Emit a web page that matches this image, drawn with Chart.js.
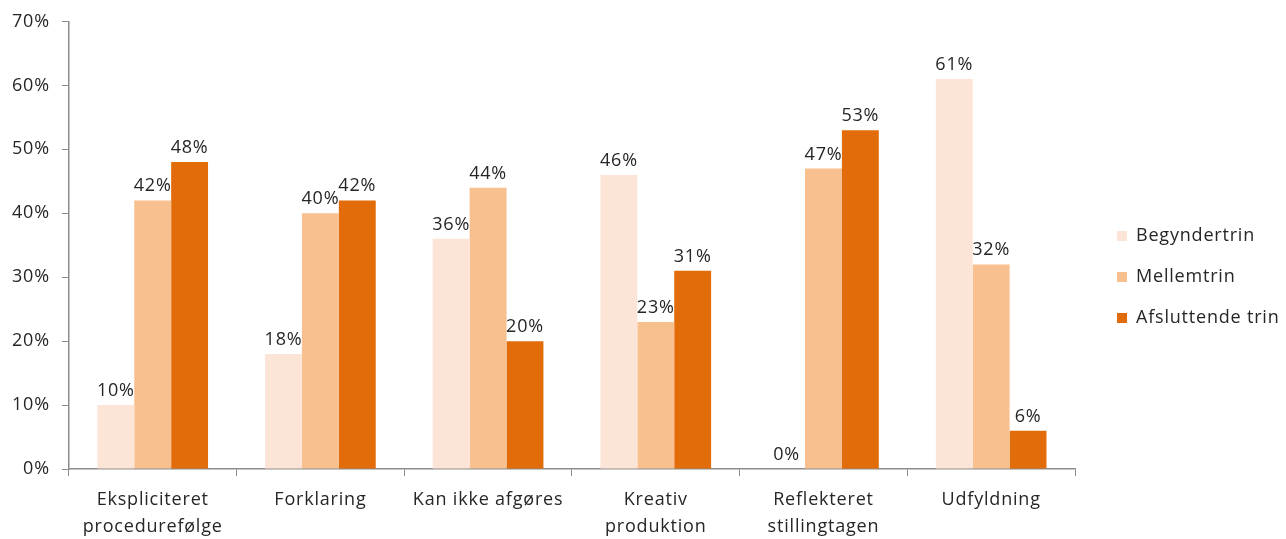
<!DOCTYPE html>
<html lang="da">
<head>
<meta charset="utf-8">
<title>Fordeling på trin</title>
<script src="https://cdn.jsdelivr.net/npm/chart.js@4/dist/chart.umd.min.js"></script>
<style>
    html, body { margin: 0; padding: 0; background: #fff; }
    #wrap { width: 1286px; height: 539px; }
</style>
</head>
<body>
<div id="wrap"><canvas id="trinChart" width="1286" height="539"></canvas></div>
<script>
// Kategorier og værdier (procent)
const categories = [
    ['Ekspliciteret', 'procedurefølge'],
    'Forklaring',
    'Kan ikke afgøres',
    ['Kreativ', 'produktion'],
    ['Reflekteret', 'stillingtagen'],
    'Udfyldning'
];
const begyndertrin = [10, 18, 36, 46, 0, 61];
const mellemtrin = [42, 40, 44, 23, 47, 32];
const afsluttendeTrin = [48, 42, 20, 31, 53, 6];
const yTicks = [0, 10, 20, 30, 40, 50, 60, 70];

const textColor = '#262626';
const axisColor = '#8c8c8c';
const fontFamily = "'Open Sans', 'Liberation Sans', sans-serif";
const fontSize = 18;

// Lidt luft mellem bogstaverne
const spacing = {
    id: 'spacing',
    beforeUpdate(chart) { chart.ctx.letterSpacing = '0.8px'; },
    beforeDraw(chart) { chart.ctx.letterSpacing = '0.8px'; }
};

// Forklaringen får fast bredde og rykkes lidt væk fra plotområdet
const legendBox = {
    id: 'legendBox',
    afterInit(chart) {
        const lg = chart.legend;
        const fit = lg.fit.bind(lg);
        lg.fit = function () {
            fit();
            this.width = 211;
        };
    },
    afterLayout(chart) {
        chart.legend.left += 19;
        chart.legend.right += 19;
        chart.legend.top += 2;
        chart.legend.bottom += 2;
    }
};

// Værdietiketter over søjlerne
const valueLabels = {
    id: 'valueLabels',
    afterDatasetsDraw(chart) {
        const ctx = chart.ctx;
        ctx.save();
        ctx.font = fontSize + 'px ' + fontFamily;
        ctx.fillStyle = textColor;
        ctx.textAlign = 'center';
        ctx.textBaseline = 'alphabetic';
        chart.data.datasets.forEach((ds, i) => {
            chart.getDatasetMeta(i).data.forEach((bar, j) => {
                ctx.fillText(ds.data[j] + '%', bar.x, bar.y - 9);
            });
        });
        ctx.restore();
    }
};

const ctx = document.getElementById('trinChart').getContext('2d');
const trinChart = new Chart(ctx, {
    type: 'bar',
    data: {
        labels: categories,
        datasets: [
            { label: 'Begyndertrin', data: begyndertrin, backgroundColor: '#fce4d6' },
            { label: 'Mellemtrin', data: mellemtrin, backgroundColor: '#f8bf8f' },
            { label: 'Afsluttende trin', data: afsluttendeTrin, backgroundColor: '#e36c0a' }
        ]
    },
    options: {
        responsive: false,
        animation: false,
        layout: { padding: { top: 0, right: 0, left: 0, bottom: -11 } },
        datasets: {
            bar: { categoryPercentage: 0.66, barPercentage: 1.0 }
        },
        plugins: {
            tooltip: { enabled: false },
            legend: {
                position: 'right',
                labels: {
                    boxWidth: 10,
                    boxHeight: 10,
                    padding: 23,
                    color: textColor,
                    font: { family: fontFamily, size: fontSize }
                }
            }
        },
        scales: {
            x: {
                grid: {
                    offset: true,
                    drawOnChartArea: false,
                    drawTicks: true,
                    tickLength: 7,
                    color: axisColor
                },
                border: { color: axisColor, width: 1.5 },
                ticks: {
                    color: textColor,
                    font: { family: fontFamily, size: fontSize, lineHeight: 1.5 },
                    padding: 10,
                    maxRotation: 0
                }
            },
            y: {
                min: 0,
                max: 70,
                afterBuildTicks(axis) {
                    axis.ticks = yTicks.map(v => ({ value: v }));
                },
                grid: {
                    drawOnChartArea: false,
                    drawTicks: true,
                    tickLength: 7,
                    color: axisColor
                },
                border: { color: axisColor, width: 1.5 },
                ticks: {
                    color: textColor,
                    font: { family: fontFamily, size: fontSize, lineHeight: 1.05 },
                    padding: 12,
                    callback: v => v + '%'
                }
            }
        }
    },
    plugins: [spacing, legendBox, valueLabels]
});
</script>
</body>
</html>
